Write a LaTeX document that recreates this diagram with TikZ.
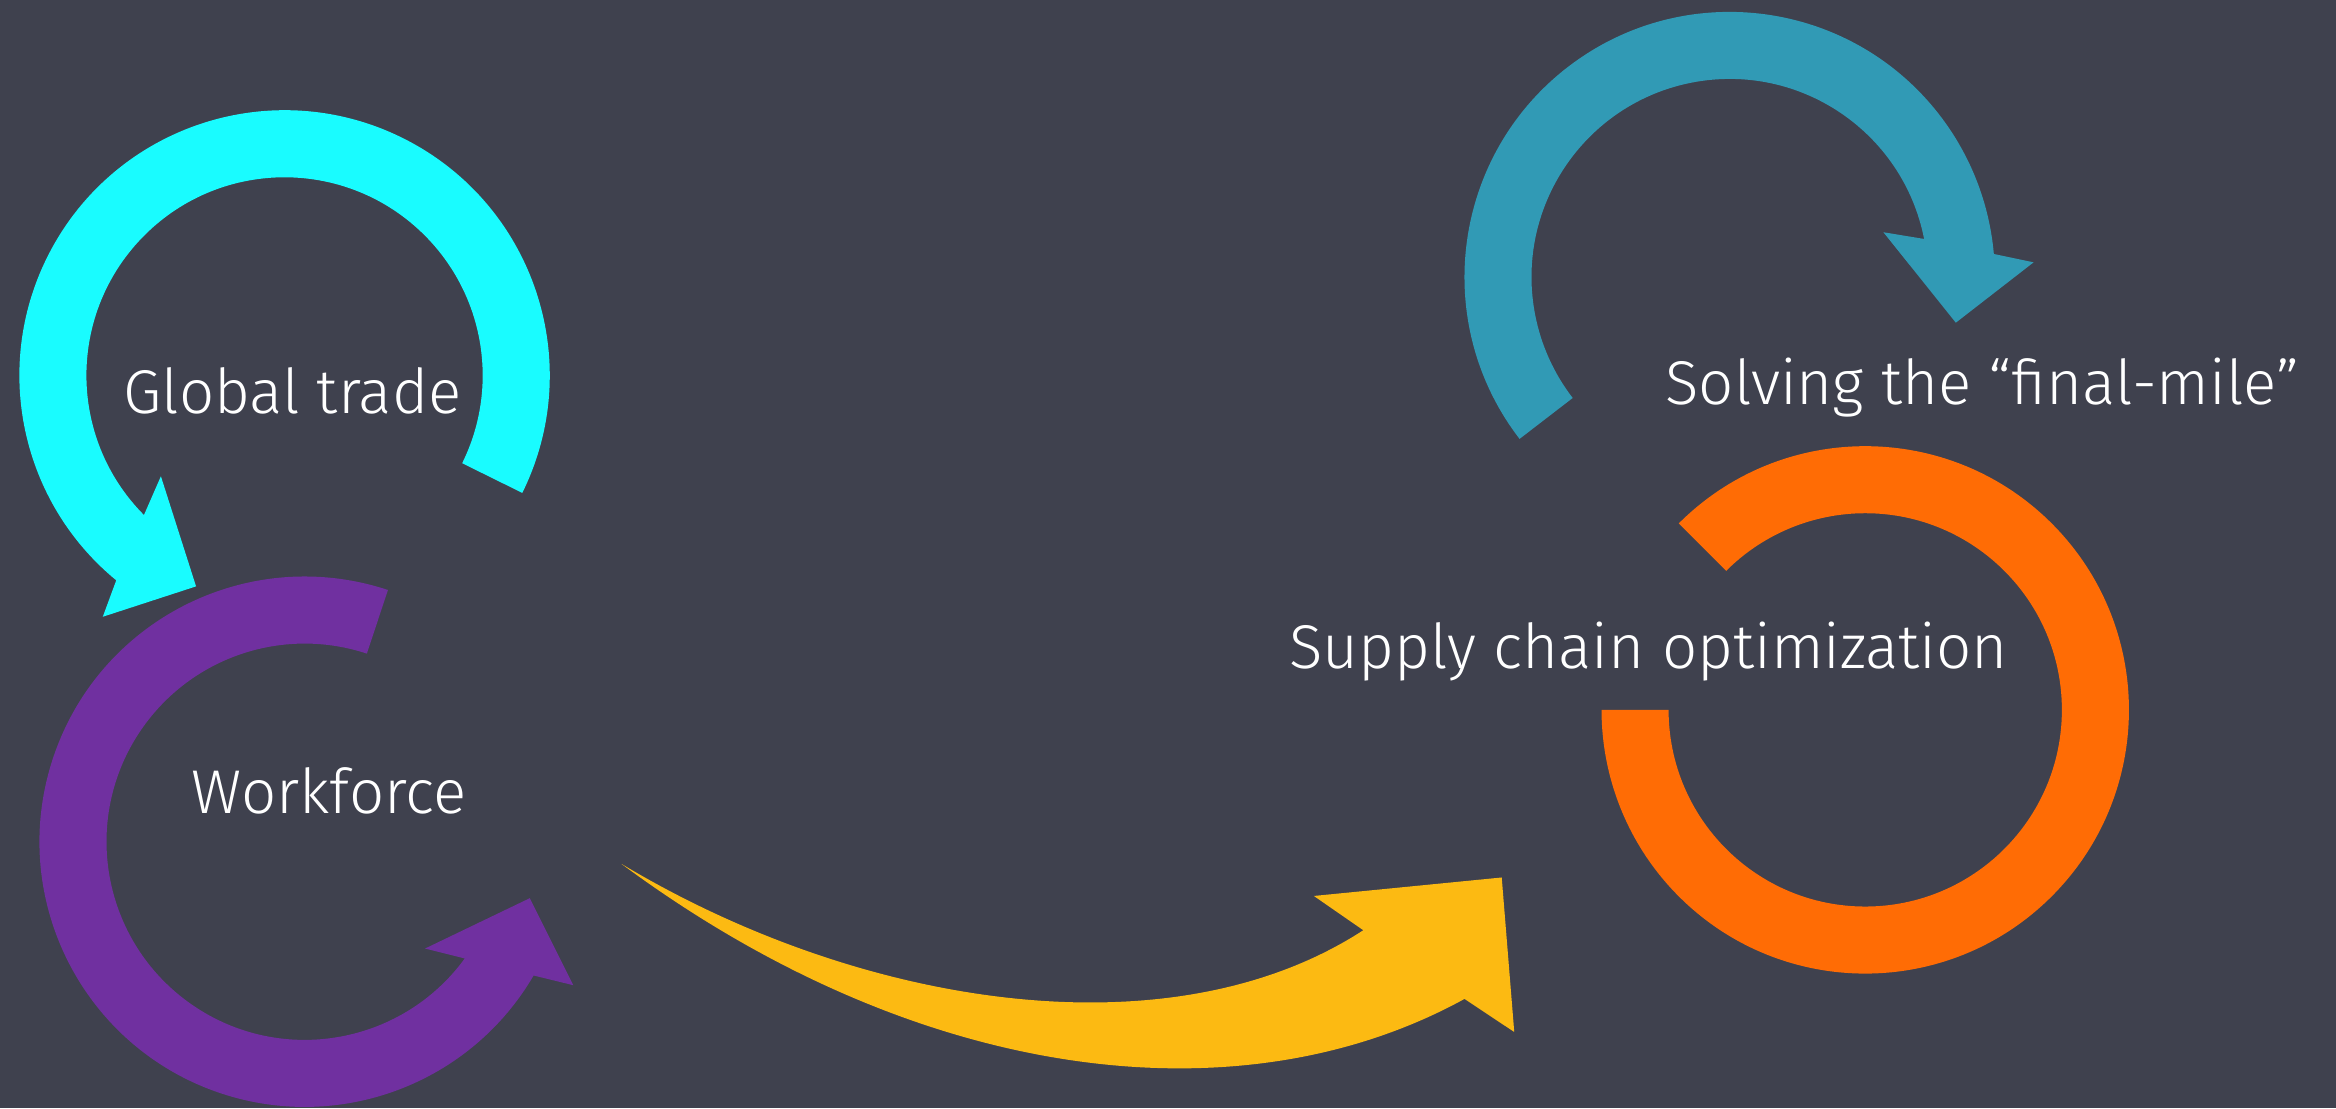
\documentclass[tikz,border=0pt]{standalone}
\usepackage{fontspec}
\setmainfont{Fira Sans}[UprightFont=* Light]
\definecolor{bgc}{HTML}{3F414E}
\definecolor{cyanc}{HTML}{19FCFF}
\definecolor{purplec}{HTML}{7030A0}
\definecolor{tealc}{HTML}{319AB5}
\definecolor{orangec}{HTML}{FF6C05}
\definecolor{yellowc}{HTML}{FCBA12}
\tikzset{
  lbl/.style={text=white, inner sep=0pt, anchor=base, font=\fontsize{41.5}{50}\selectfont},
}
\begin{document}
\begin{tikzpicture}[x=1pt,y=1pt]
\fill[bgc] (0,0) rectangle (1568,744);
\useasboundingbox (0,0) rectangle (1568,744);

% cyan circular arrow (Global trade)
\fill[cyanc] ([shift={(-26.3:178pt)}]191,492) arc[start angle=-26.3,end angle=230.6,radius=178pt]
  -- (69,330) -- (131.6,350.4) -- (108,424.3)
  -- ([shift={(224.8:133pt)}]191,492) arc[start angle=224.8,end angle=-26.3,radius=133pt] -- cycle;

% purple circular arrow (Workforce)
\fill[purplec] ([shift={(71.7:178pt)}]204.5,179) arc[start angle=71.7,end angle=329.7,radius=178pt]
  -- (384.8,82.7) -- (355.6,141.1) -- (285.3,107.3)
  -- ([shift={(323.9:133pt)}]204.5,179) arc[start angle=323.9,end angle=71.7,radius=133pt] -- cycle;

% teal circular arrow (Solving the final-mile)
\fill[tealc] ([shift={(217.6:178pt)}]1161,558) arc[start angle=217.6,end angle=5,radius=178pt]
  -- (1365,567.9) -- (1312.8,527.4) -- (1264.2,588.1)
  -- ([shift={(11.1:133pt)}]1161,558) arc[start angle=11.1,end angle=217.6,radius=133pt] -- cycle;

% orange ring (Supply chain optimization)
\fill[orangec] ([shift={(135:177pt)}]1252,267.5) arc[start angle=135,end angle=-180,radius=177pt]
  -- ([shift={(180:132pt)}]1252,267.5) arc[start angle=-180,end angle=135,radius=132pt] -- cycle;

% yellow curved arrow
\fill[yellowc] (417.2,164.1) .. controls (577.2,68.1) and (785.1,35.1) .. (915.1,119.6)
  -- (881.9,142.6) -- (1008,155) -- (1016.4,51.3) -- (983,73.5)
  .. controls (833,-9) and (617.2,16.1) .. (417.2,164.1) -- cycle;

% labels
\node[lbl] (global) at (196.3,466.6) {Global trade};
\node[lbl] (work) at (221,198) {Workforce};
\node[lbl] (solve) at (1330.5,472.2) {Solving the “final-mile”};
\node[lbl] (supply) at (1106.7,295.5) {Supply chain optimization};
\end{tikzpicture}
\end{document}
